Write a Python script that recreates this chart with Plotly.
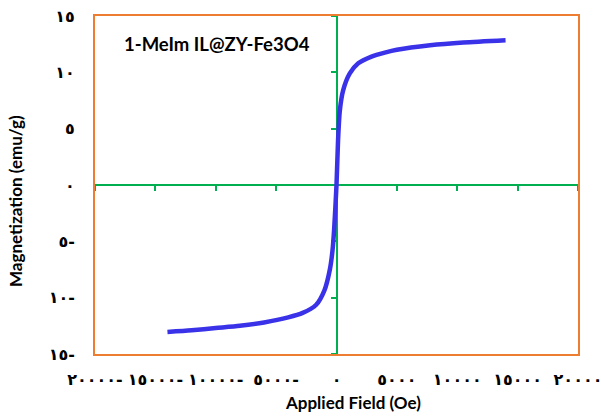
import plotly.graph_objects as go

# Data
field_oe = [-14000, -12000, -10000, -8000, -6000, -4000, -2800, -1700, -1000, -550,
            -330, -200, 0, 130, 275, 550, 1100, 1800, 2900, 4000, 5000, 7750, 10500,
            14000]
magnetization = [-13.05, -12.9, -12.7, -12.5, -12.2, -11.75, -11.35, -10.65, -9.35, -7.5,
                 -5.8, -4.0, 0.0, 4.0, 6.6, 8.4, 9.9, 10.8, 11.4, 11.75, 12.0, 12.4, 12.65,
                 12.85]

x_tickvals = [-20000, -15000, -10000, -5000, 0, 5000, 10000, 15000, 20000]
x_ticktext = ["٢٠٠٠٠-", "١٥٠٠٠-", "١٠٠٠٠-", "٥٠٠٠-", "٠", "٥٠٠٠", "١٠٠٠٠", "١٥٠٠٠", "٢٠٠٠٠"]
y_tickvals = [-15, -10, -5, 0, 5, 10, 15]
y_ticktext = ["١٥-", "١٠-", "٥-", "٠", "٥", "١٠", "١٥"]

ORANGE = "#ED7D31"
GREEN = "#00B050"
BLUE = "#3A32E8"
tick_font = dict(family="DejaVu Sans", size=16, color="#000000", weight="bold")

fig = go.Figure()
# base subplot (carries the orange frame and tick labels)
fig.add_trace(go.Scatter(
    x=field_oe, y=magnetization, mode="lines",
    line=dict(color="rgba(0,0,0,0)", width=0),
    xaxis="x", yaxis="y", showlegend=False, hoverinfo="skip",
))
# visible curve on the overlay subplot (above the green zero axes)
fig.add_trace(go.Scatter(
    x=field_oe, y=magnetization, mode="lines",
    line=dict(color=BLUE, width=4.5, shape="spline", smoothing=0.7),
    xaxis="x2", yaxis="y2", showlegend=False, hoverinfo="x+y",
))

fig.update_layout(
    width=601, height=417,
    margin=dict(l=95, r=23, t=16, b=63, autoexpand=False),
    paper_bgcolor="white", plot_bgcolor="white",
    showlegend=False,
    xaxis=dict(
        domain=[0, 1], automargin=False,
        range=[-20000, 20000], showgrid=False, zeroline=False,
        showline=True, mirror=True, linecolor=ORANGE, linewidth=2,
        tickmode="array", tickvals=x_tickvals, ticktext=x_ticktext,
        ticks="", tickfont=tick_font, ticklabelstandoff=10,
        ticklabeloverflow="allow",
    ),
    yaxis=dict(
        domain=[0, 1], automargin=False,
        range=[-15, 15], showgrid=False, zeroline=False,
        showline=True, mirror=True, linecolor=ORANGE, linewidth=2,
        tickmode="array", tickvals=y_tickvals, ticktext=y_ticktext,
        ticks="", tickfont=tick_font, ticklabelstandoff=15,
        ticklabeloverflow="allow",
    ),
    xaxis2=dict(
        overlaying="x", anchor="free", position=0.5, automargin=False,
        range=[-20000, 20000], showgrid=False, zeroline=False,
        showline=True, linecolor=GREEN, linewidth=2,
        tickmode="array", tickvals=x_tickvals, showticklabels=False,
        ticks="outside", ticklen=5, tickwidth=2, tickcolor=GREEN,
        layer="below traces",
    ),
    yaxis2=dict(
        overlaying="y", anchor="free", position=0.5, side="left", automargin=False,
        range=[-15, 15], showgrid=False, zeroline=False,
        showline=True, linecolor=GREEN, linewidth=2,
        tickmode="array", tickvals=y_tickvals, showticklabels=False,
        ticks="outside", ticklen=5, tickwidth=2, tickcolor=GREEN,
        layer="below traces",
    ),
    annotations=[
        dict(text="<b>1-MeIm IL@ZY-Fe3O4</b>", xref="paper", yref="paper",
             x=(122 - 95) / 483, y=(354 - 44) / 338, xanchor="left", yanchor="middle",
             showarrow=False, font=dict(family="Lato", size=18.5, color="#000000")),
        dict(text="<b>Applied Field (Oe)</b>", xref="paper", yref="paper",
             x=(353 - 95) / 483, y=(354 - 402) / 338, xanchor="center", yanchor="middle",
             showarrow=False, font=dict(family="Lato", size=17, color="#000000")),
        dict(text="<b>Magnetization (emu/g)</b>", xref="paper", yref="paper",
             x=(15 - 95) / 483, y=(354 - 201) / 338, xanchor="center", yanchor="middle",
             textangle=-90, showarrow=False,
             font=dict(family="Lato", size=17, color="#000000")),
    ],
)

fig.write_html("out.html")
